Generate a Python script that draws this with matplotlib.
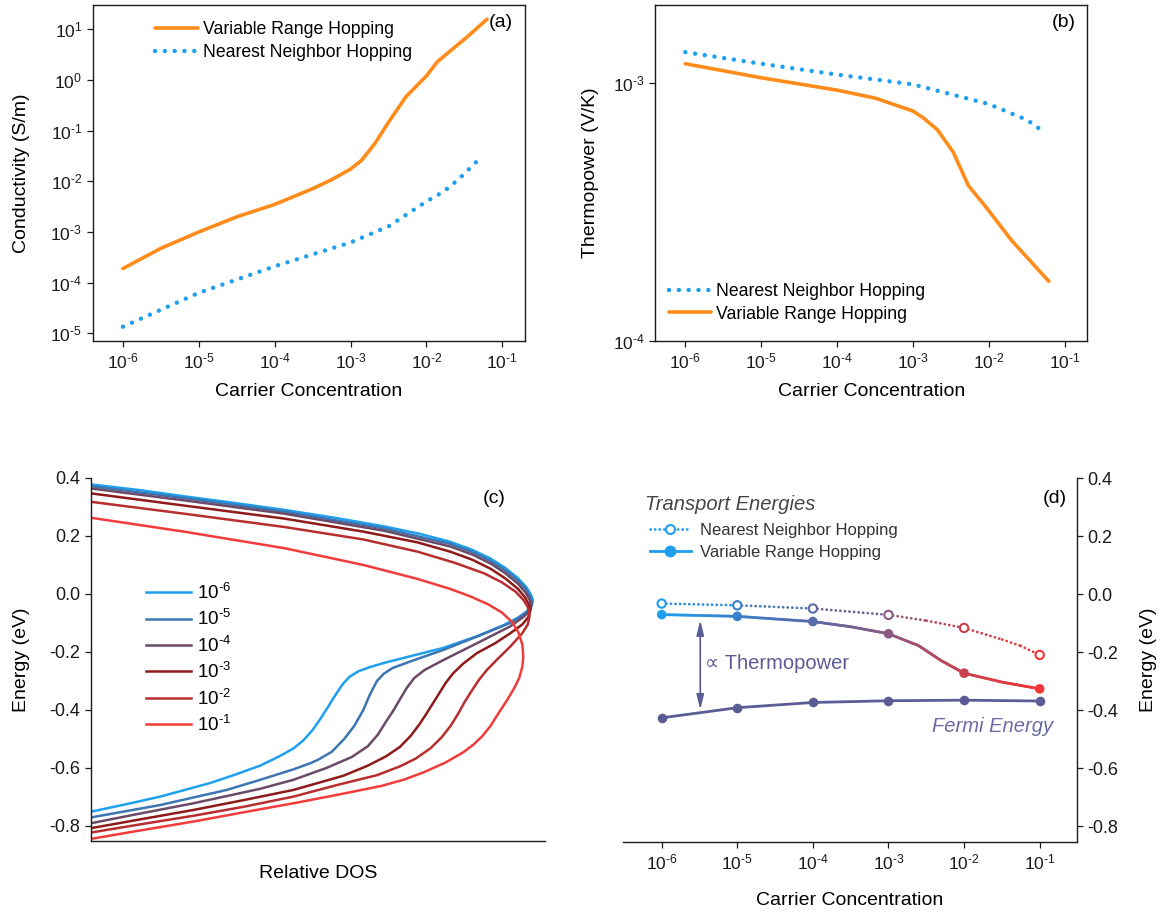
import numpy as np
import matplotlib
matplotlib.use("Agg")
import matplotlib.pyplot as plt
from matplotlib.collections import LineCollection
from matplotlib.colors import LinearSegmentedColormap
from matplotlib.lines import Line2D
from matplotlib.ticker import FixedLocator, FuncFormatter, NullLocator

plt.rcParams["font.family"] = ["Liberation Sans", "DejaVu Sans"]
plt.rcParams["mathtext.fontset"] = "custom"
plt.rcParams["mathtext.rm"] = "Liberation Sans"
plt.rcParams["mathtext.it"] = "Liberation Sans:italic"
plt.rcParams["axes.unicode_minus"] = False

# ---- data ----
# (a) conductivity vs carrier concentration
conc_a_vrh = [1e-6, 3.2e-6, 1e-5, 3.2e-5, 1e-4, 3.2e-4, 5.6e-4, 1e-3, 1.4e-3,
              2.1e-3, 3.2e-3, 5.4e-3, 1e-2, 1.4e-2, 3.5e-2, 6.3e-2]
sigma_vrh = [1.9e-4, 4.8e-4, 1.0e-3, 2.0e-3, 3.5e-3, 7.2e-3, 1.07e-2, 1.74e-2, 2.6e-2,
             5.6e-2, 0.15, 0.47, 1.2, 2.3, 7.2, 15.8]
conc_a_nnh = [1e-6, 1e-5, 1e-4, 1e-3, 3.2e-3, 1e-2, 1.7e-2, 2.75e-2, 4.4e-2, 5.4e-2]
sigma_nnh = [1.35e-5, 6.3e-5, 2.1e-4, 6.2e-4, 1.3e-3, 4.0e-3, 6.3e-3, 1.15e-2, 2.3e-2, 3.1e-2]

# (b) thermopower vs carrier concentration
conc_b_nnh = [1e-6, 1e-5, 1e-4, 1e-3, 1e-2, 3.2e-2, 5.2e-2]
seebeck_nnh = [1.32e-3, 1.19e-3, 1.08e-3, 9.9e-4, 8.3e-4, 7.2e-4, 6.5e-4]
conc_b_vrh = [1e-6, 1e-5, 1e-4, 3.2e-4, 1e-3, 1.4e-3, 2.1e-3, 3.4e-3, 5.4e-3, 1e-2, 2e-2, 6.2e-2]
seebeck_vrh = [1.19e-3, 1.05e-3, 9.4e-4, 8.75e-4, 7.8e-4, 7.3e-4, 6.6e-4, 5.4e-4, 4.0e-4,
               3.2e-4, 2.45e-4, 1.7e-4]

# (c) relative DOS (0..1 along the axis) vs energy, one curve per concentration
dos_labels = [r"$10^{\text{-6}}$", r"$10^{\text{-5}}$", r"$10^{\text{-4}}$",
              r"$10^{\text{-3}}$", r"$10^{\text{-2}}$", r"$10^{\text{-1}}$"]
dos_colors = ["#1e9ff0", "#3b76b2", "#6b4a68", "#8e1a1a", "#b82e2e", "#f23b3b"]

dos_1e6 = [0.000, 0.109, 0.205, 0.316, 0.426, 0.536, 0.646, 0.725, 0.791, 0.840, 0.880, 0.912,
           0.940, 0.958, 0.968, 0.973, 0.970, 0.960, 0.940, 0.908, 0.850, 0.776, 0.703, 0.650,
           0.615, 0.590, 0.570, 0.555, 0.540, 0.522, 0.505, 0.488, 0.468, 0.446, 0.415, 0.373,
           0.320, 0.263, 0.153, 0.070, 0.000]
en_1e6 = [0.378, 0.358, 0.337, 0.314, 0.290, 0.263, 0.233, 0.207, 0.180, 0.152, 0.122, 0.090,
          0.055, 0.025, 0.000, -0.020, -0.040, -0.060, -0.082, -0.108, -0.146, -0.186, -0.215,
          -0.236, -0.252, -0.266, -0.285, -0.310, -0.345, -0.390, -0.432, -0.470, -0.505, -0.533,
          -0.560, -0.592, -0.622, -0.652, -0.699, -0.728, -0.751]

dos_1e5 = [0.000, 0.205, 0.426, 0.646, 0.791, 0.840, 0.880, 0.912, 0.940, 0.958, 0.967, 0.972,
           0.968, 0.955, 0.940, 0.923, 0.850, 0.776, 0.703, 0.665, 0.645, 0.630, 0.615, 0.600,
           0.580, 0.558, 0.530, 0.500, 0.483, 0.446, 0.373, 0.299, 0.153, 0.000]
en_1e5 = [0.372, 0.331, 0.284, 0.226, 0.173, 0.145, 0.114, 0.082, 0.047, 0.016, -0.008, -0.030,
          -0.050, -0.068, -0.084, -0.100, -0.147, -0.193, -0.233, -0.255, -0.275, -0.300, -0.345,
          -0.400, -0.455, -0.500, -0.545, -0.572, -0.584, -0.605, -0.641, -0.676, -0.728, -0.771]

dos_1e4 = [0.000, 0.205, 0.426, 0.646, 0.791, 0.840, 0.880, 0.912, 0.940, 0.957, 0.966, 0.970,
           0.965, 0.950, 0.923, 0.850, 0.776, 0.735, 0.712, 0.695, 0.680, 0.665, 0.650, 0.632,
           0.610, 0.575, 0.519, 0.446, 0.373, 0.226, 0.100, 0.000]
en_1e4 = [0.364, 0.323, 0.277, 0.218, 0.164, 0.136, 0.105, 0.072, 0.036, 0.005, -0.020, -0.040,
          -0.062, -0.082, -0.112, -0.170, -0.228, -0.262, -0.290, -0.325, -0.365, -0.405, -0.440,
          -0.485, -0.525, -0.562, -0.600, -0.641, -0.672, -0.722, -0.760, -0.791]

dos_1e3 = [0.000, 0.205, 0.426, 0.600, 0.719, 0.791, 0.840, 0.880, 0.912, 0.940, 0.955, 0.964,
           0.968, 0.963, 0.950, 0.923, 0.890, 0.850, 0.820, 0.798, 0.782, 0.768, 0.752, 0.738,
           0.725, 0.705, 0.681, 0.650, 0.610, 0.556, 0.446, 0.340, 0.226, 0.100, 0.000]
en_1e3 = [0.347, 0.305, 0.260, 0.215, 0.178, 0.146, 0.118, 0.087, 0.054, 0.018, -0.010, -0.035,
          -0.055, -0.080, -0.105, -0.136, -0.170, -0.204, -0.240, -0.273, -0.305, -0.340, -0.380,
          -0.415, -0.446, -0.488, -0.527, -0.560, -0.592, -0.627, -0.676, -0.710, -0.745, -0.780,
          -0.808]

dos_1e2 = [0.000, 0.205, 0.426, 0.600, 0.719, 0.800, 0.866, 0.905, 0.935, 0.952, 0.962, 0.966,
           0.962, 0.950, 0.923, 0.895, 0.872, 0.855, 0.838, 0.822, 0.808, 0.792, 0.772, 0.748,
           0.715, 0.680, 0.630, 0.542, 0.446, 0.340, 0.226, 0.100, 0.000]
en_1e2 = [0.318, 0.277, 0.231, 0.188, 0.146, 0.108, 0.071, 0.040, 0.008, -0.020, -0.045, -0.075,
          -0.105, -0.135, -0.182, -0.225, -0.262, -0.295, -0.335, -0.375, -0.415, -0.455, -0.495,
          -0.532, -0.568, -0.595, -0.625, -0.659, -0.699, -0.733, -0.765, -0.797, -0.823]

dos_1e1 = [0.000, 0.205, 0.426, 0.600, 0.719, 0.790, 0.835, 0.875, 0.905, 0.928, 0.942, 0.950,
           0.952, 0.950, 0.943, 0.932, 0.918, 0.900, 0.880, 0.862, 0.842, 0.820, 0.780, 0.733,
           0.690, 0.640, 0.542, 0.446, 0.340, 0.226, 0.100, 0.000]
en_1e1 = [0.263, 0.215, 0.158, 0.100, 0.052, 0.018, -0.008, -0.036, -0.064, -0.098, -0.135,
          -0.175, -0.216, -0.250, -0.290, -0.325, -0.362, -0.405, -0.455, -0.490, -0.520, -0.546,
          -0.582, -0.615, -0.640, -0.662, -0.693, -0.722, -0.752, -0.785, -0.818, -0.845]

dos_curves = [dos_1e6, dos_1e5, dos_1e4, dos_1e3, dos_1e2, dos_1e1]
en_curves = [en_1e6, en_1e5, en_1e4, en_1e3, en_1e2, en_1e1]

# (d) transport energies and Fermi energy
conc_d = [1e-6, 1e-5, 1e-4, 1e-3, 1e-2, 1e-1]
e_vrh = [-0.070, -0.076, -0.094, -0.136, -0.272, -0.326]
e_nnh = [-0.032, -0.038, -0.049, -0.071, -0.116, -0.209]
e_fermi = [-0.426, -0.391, -0.373, -0.367, -0.365, -0.368]
conc_vrh_line = [1e-6, 1e-5, 1e-4, 3.2e-4, 1e-3, 2.5e-3, 5e-3, 1e-2, 3.2e-2, 1e-1]
e_vrh_line = [-0.070, -0.076, -0.094, -0.112, -0.136, -0.177, -0.229, -0.272, -0.303, -0.326]
conc_nnh_line = [1e-6, 1e-5, 1e-4, 1e-3, 3.2e-3, 1e-2, 3.2e-2, 5.6e-2, 1e-1]
e_nnh_line = [-0.032, -0.038, -0.049, -0.071, -0.091, -0.116, -0.156, -0.178, -0.209]
point_colors = ["#1e9ff0", "#3a80c8", "#5a6aa8", "#8a5a80", "#c8424f", "#f03636"]

ORANGE = "#ff8c1a"
BLUE = "#1e9ff0"
SLATE = "#5c5c94"
INK = "#1a1a1a"

conc_ticks = [1e-6, 1e-5, 1e-4, 1e-3, 1e-2, 1e-1]


def pow10(v, pos):
    return r"$10^{\text{%d}}$" % int(round(np.log10(v)))


def style_log_box(ax, yticks):
    ax.set_xscale("log")
    ax.set_yscale("log")
    ax.xaxis.set_major_locator(FixedLocator(conc_ticks))
    ax.yaxis.set_major_locator(FixedLocator(yticks))
    ax.xaxis.set_minor_locator(NullLocator())
    ax.yaxis.set_minor_locator(NullLocator())
    ax.xaxis.set_major_formatter(FuncFormatter(pow10))
    ax.yaxis.set_major_formatter(FuncFormatter(pow10))
    ax.tick_params(direction="out", length=4, width=0.9, labelsize=12.5, colors=INK,
                   top=False, right=False)
    for sp in ax.spines.values():
        sp.set_linewidth(1.0)
        sp.set_color(INK)
    ax.set_xlim(10 ** -6.4, 10 ** -0.7)
    ax.set_xlabel("Carrier Concentration", fontsize=14)
    ax.xaxis.set_label_coords(0.5, -0.125)


fig = plt.figure(figsize=(11.74, 9.15), dpi=100)

# ---- (a) ----
ax_a = fig.add_axes([0.0789, 0.6277, 0.3683, 0.3669])
ax_a.plot(conc_a_vrh, sigma_vrh, color=ORANGE, lw=2.6, solid_capstyle="round",
          label="Variable Range Hopping")
ax_a.plot(conc_a_nnh, sigma_nnh, color=BLUE, lw=3.2, ls=(0, (0.01, 2.2)),
          dash_capstyle="round", label="Nearest Neighbor Hopping")
style_log_box(ax_a, [1e-5, 1e-4, 1e-3, 1e-2, 1e-1, 1e0, 1e1])
ax_a.set_ylim(10 ** -5.145, 10 ** 1.48)
ax_a.set_ylabel("Conductivity (S/m)", fontsize=14)
ax_a.yaxis.set_label_coords(-0.145, 0.5)
ax_a.legend(loc="center left", bbox_to_anchor=(0.145, 0.892), frameon=False, fontsize=12.7,
            borderpad=0, borderaxespad=0, handlelength=2.4, handletextpad=0.3,
            labelspacing=0.31)
ax_a.text(0.972, 0.949, "(a)", transform=ax_a.transAxes, ha="right", va="center",
          fontsize=14)

# ---- (b) ----
ax_b = fig.add_axes([0.5579, 0.6277, 0.3683, 0.3669])
ax_b.plot(conc_b_nnh, seebeck_nnh, color=BLUE, lw=3.2, ls=(0, (0.01, 2.2)),
          dash_capstyle="round", label="Nearest Neighbor Hopping")
ax_b.plot(conc_b_vrh, seebeck_vrh, color=ORANGE, lw=2.6, solid_capstyle="round",
          label="Variable Range Hopping")
style_log_box(ax_b, [1e-4, 1e-3])
ax_b.set_ylim(1e-4, 10 ** -2.696)
ax_b.set_ylabel("Thermopower (V/K)", fontsize=14)
ax_b.yaxis.set_label_coords(-0.13, 0.5)
ax_b.legend(loc="center left", bbox_to_anchor=(0.032, 0.1125), frameon=False, fontsize=12.7,
            borderpad=0, borderaxespad=0, handlelength=2.4, handletextpad=0.3,
            labelspacing=0.31)
ax_b.text(0.972, 0.949, "(b)", transform=ax_b.transAxes, ha="right", va="center",
          fontsize=14)

# ---- (c) ----
ax_c = fig.add_axes([0.0773, 0.0809, 0.3870, 0.3967])
for d, e, col, lab in zip(dos_curves, en_curves, dos_colors, dos_labels):
    ax_c.plot(d, e, color=col, lw=1.8, label=lab, solid_joinstyle="round")
ax_c.set_xlim(0, 1)
ax_c.set_ylim(-0.852, 0.4)
ax_c.spines["top"].set_visible(False)
ax_c.spines["right"].set_visible(False)
for sp in ("left", "bottom"):
    ax_c.spines[sp].set_linewidth(1.0)
    ax_c.spines[sp].set_color(INK)
ax_c.set_xticks([])
ax_c.yaxis.set_major_locator(FixedLocator([0.4, 0.2, 0.0, -0.2, -0.4, -0.6, -0.8]))
ax_c.yaxis.set_major_formatter(FuncFormatter(lambda v, p: "%.1f" % v))
ax_c.tick_params(axis="y", direction="out", length=4, width=0.9, labelsize=13, colors=INK)
ax_c.set_ylabel("Energy (eV)", fontsize=14)
ax_c.yaxis.set_label_coords(-0.134, 0.5)
ax_c.set_xlabel("Relative DOS", fontsize=14)
ax_c.xaxis.set_label_coords(0.5, -0.066)
ax_c.xaxis.label.set_va("top")
ax_c.legend(loc="center left", bbox_to_anchor=(0.122, 0.502), frameon=False, fontsize=13.5,
            borderpad=0, borderaxespad=0, handlelength=2.4, handletextpad=0.3,
            labelspacing=0.34)
ax_c.text(0.913, 0.944, "(c)", transform=ax_c.transAxes, ha="right", va="center",
          fontsize=14)

# ---- (d) ----
ax_d = fig.add_axes([0.5304, 0.0801, 0.3872, 0.3972])
ax_d.set_xscale("log")
ax_d.set_xlim(10 ** -6.516, 10 ** -0.503)
ax_d.set_ylim(-0.853, 0.4)

cmap = LinearSegmentedColormap.from_list("conc", list(zip(np.linspace(0, 1, 6), point_colors)))


def cfrac(x):
    return np.clip((np.log10(x) + 6) / 5, 0, 1)


# solid VRH line, colour shading along the concentration axis
lx = np.log10(conc_vrh_line)
segs, cols = [], []
for i in range(len(lx) - 1):
    t = np.linspace(0, 1, 21)
    xs = 10 ** (lx[i] + (lx[i + 1] - lx[i]) * t)
    ys = e_vrh_line[i] + (e_vrh_line[i + 1] - e_vrh_line[i]) * t
    for j in range(len(t) - 1):
        segs.append([(xs[j], ys[j]), (xs[j + 1], ys[j + 1])])
        cols.append(cmap(cfrac(np.sqrt(xs[j] * xs[j + 1]))))
lc = LineCollection(segs, colors=cols, linewidths=2.0, capstyle="round", zorder=2)
ax_d.add_collection(lc)

# dotted NNH line, one colour per interval
segs_n, cols_n = [], []
for i in range(len(conc_nnh_line) - 1):
    segs_n.append([(conc_nnh_line[i], e_nnh_line[i]), (conc_nnh_line[i + 1], e_nnh_line[i + 1])])
    cols_n.append(cmap(cfrac(np.sqrt(conc_nnh_line[i] * conc_nnh_line[i + 1]))))
lc_n = LineCollection(segs_n, colors=cols_n, linewidths=2.0, linestyles=[(0, (0.05, 1.6))],
                      capstyle="round", zorder=2)
ax_d.add_collection(lc_n)

ax_d.plot(conc_d, e_fermi, color=SLATE, lw=2.0, zorder=2)
ax_d.scatter(conc_d, e_fermi, s=48, color=SLATE, zorder=3, linewidths=0)
ax_d.scatter(conc_d, e_vrh, s=48, color=point_colors, zorder=3, linewidths=0)
ax_d.scatter(conc_d, e_nnh, s=36, facecolors="white", edgecolors=point_colors,
             linewidths=1.5, zorder=3)

ax_d.annotate("", xy=(10 ** -5.49, -0.398), xytext=(10 ** -5.49, -0.089),
              arrowprops=dict(arrowstyle="<|-|>,head_length=0.9,head_width=0.22",
                              color=SLATE, lw=1.2, shrinkA=0, shrinkB=0))
ax_d.text(10 ** -5.425, -0.24, "\u221d Thermopower", fontsize=14.5, color=SLATE,
          ha="left", va="center")
ax_d.text(10 ** -0.828, -0.457, "Fermi Energy", fontsize=14.5, color="#6a6aa4",
          style="italic", ha="right", va="center")
ax_d.text(10 ** -6.22, 0.309, "Transport Energies", fontsize=14.5, color="#454545",
          style="italic", ha="left", va="center")

handles = [
    Line2D([], [], color=BLUE, lw=2.0, ls=(0, (0.05, 1.6)), dash_capstyle="round",
           marker="o", markersize=6.5, markerfacecolor="white", markeredgewidth=1.5),
    Line2D([], [], color=BLUE, lw=2.0, marker="o", markersize=7.5),
]
leg = ax_d.legend(handles, ["Nearest Neighbor Hopping", "Variable Range Hopping"],
                  loc="center left", bbox_to_anchor=(0.059, 0.8265), frameon=False,
                  fontsize=12, borderpad=0, borderaxespad=0, handlelength=2.5,
                  handletextpad=0.55, labelspacing=0.41)
for txt in leg.get_texts():
    txt.set_color("#333333")

ax_d.spines["top"].set_visible(False)
ax_d.spines["left"].set_visible(False)
for sp in ("right", "bottom"):
    ax_d.spines[sp].set_linewidth(1.0)
    ax_d.spines[sp].set_color(INK)
ax_d.xaxis.set_major_locator(FixedLocator(conc_ticks))
ax_d.xaxis.set_minor_locator(NullLocator())
ax_d.xaxis.set_major_formatter(FuncFormatter(pow10))
ax_d.yaxis.tick_right()
ax_d.yaxis.set_label_position("right")
ax_d.yaxis.set_major_locator(FixedLocator([0.4, 0.2, 0.0, -0.2, -0.4, -0.6, -0.8]))
ax_d.yaxis.set_major_formatter(FuncFormatter(lambda v, p: "%.1f" % v))
ax_d.tick_params(direction="out", length=4, width=0.9, labelsize=13, colors=INK)
ax_d.tick_params(axis="x", labelsize=12.5)
ax_d.set_ylabel("Energy (eV)", fontsize=14)
ax_d.yaxis.set_label_coords(1.138, 0.5)
ax_d.set_xlabel("Carrier Concentration", fontsize=14)
ax_d.xaxis.set_label_coords(0.5, -0.138)
ax_d.xaxis.label.set_va("top")
ax_d.text(0.977, 0.944, "(d)", transform=ax_d.transAxes, ha="right", va="center",
          fontsize=14)

fig.savefig("out.png", dpi=100)
